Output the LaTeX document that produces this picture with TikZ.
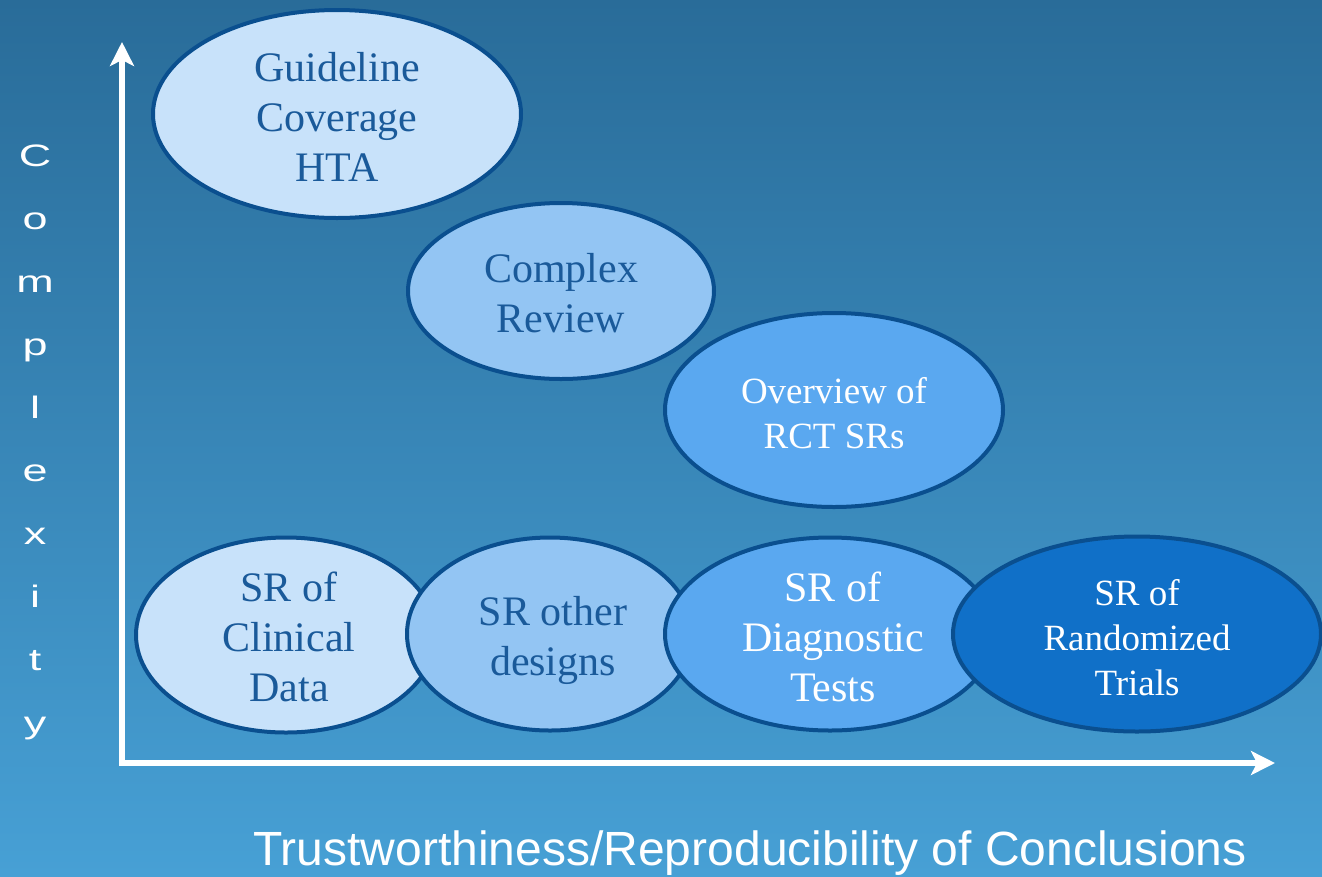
\documentclass[tikz,border=0pt]{standalone}
\usepackage{fontspec}
\setmainfont{Liberation Serif}
\newfontfamily\axisfont{Liberation Sans}
\usetikzlibrary{shapes.geometric,arrows.meta}
\definecolor{bgtop}{HTML}{296C99}
\definecolor{bgbot}{HTML}{47A0D5}
\definecolor{fillA}{HTML}{C8E2FA}
\definecolor{fillB}{HTML}{93C5F3}
\definecolor{fillC}{HTML}{5AA8F0}
\definecolor{fillD}{HTML}{1070C8}
\definecolor{rim}{HTML}{0A4F8F}
\definecolor{inkdark}{HTML}{1A5A9A}
\tikzset{
  oval/.style={ellipse, draw=rim, line width=4pt, inner sep=0pt},
  bigtxt/.style={align=center, font=\fontsize{42}{50}\selectfont, inner sep=0pt},
  smalltxt/.style={align=center, font=\fontsize{37}{45}\selectfont, inner sep=0pt},
  axisline/.style={white, line width=6.5pt, -{Stealth[length=24pt,width=24pt,inset=6pt]}},
}
\begin{document}
\begin{tikzpicture}[x=1pt,y=-1pt]
\useasboundingbox (0,0) rectangle (1322,876);
\shade[top color=bgtop, bottom color=bgbot] (0,0) rectangle (1322,876);

% axes
\coordinate (origin) at (122,763);
\coordinate (ytip) at (122,42);
\coordinate (xtip) at (1275,763);
\draw[axisline] ([yshift=-3pt]origin) -- (ytip);
\draw[axisline] ([xshift=-3pt]origin) -- (xtip);

% axis labels
\node[text=white, align=center, inner sep=0pt, xscale=1.45, transform shape,
      font=\axisfont\fontsize{31}{63}\selectfont] (ylab) at (35,442)
  {C\\o\\m\\p\\l\\e\\x\\i\\t\\y};
\node[text=white, inner sep=0pt, font=\axisfont\fontsize{48}{56}\selectfont,
      anchor=base] (xlab) at (750,865)
  {Trustworthiness/Reproducibility of Conclusions};

% ovals
\node[oval, fill=fillA, minimum width=368pt, minimum height=208pt] (guide) at (337,114) {};
\node[bigtxt, text=inkdark] (guidet) at ([yshift=-3pt]guide.center) {Guideline\\Coverage\\HTA};

\node[oval, fill=fillB, minimum width=306pt, minimum height=176pt] (complex) at (561,291) {};
\node[bigtxt, text=inkdark] (complext) at ([yshift=-2pt]complex.center) {Complex\\Review};

\node[oval, fill=fillC, minimum width=338pt, minimum height=194pt] (overview) at (834,410) {};
\node[smalltxt, text=white] (overviewt) at ([yshift=-3pt]overview.center) {Overview of\\RCT SRs};

\node[oval, fill=fillA, minimum width=300pt, minimum height=195pt] (clin) at (286,635) {};
\node[bigtxt, text=inkdark] (clint) at ([xshift=3pt,yshift=-2pt]clin.center) {SR of\\Clinical\\Data};

\node[oval, fill=fillB, minimum width=286pt, minimum height=193pt] (other) at (550,634) {};
\node[bigtxt, text=inkdark] (othert) at ([xshift=3pt,yshift=-6pt]other.center) {SR other\\designs};

\node[oval, fill=fillC, minimum width=330pt, minimum height=193pt] (diag) at (830,634) {};
\node[bigtxt, text=white] (diagt) at ([xshift=3pt,yshift=-3pt]diag.center) {SR of\\Diagnostic\\Tests};

\node[oval, fill=fillD, minimum width=368pt, minimum height=195pt] (rand) at (1137,634) {};
\node[smalltxt, text=white] (randt) at ([yshift=-4pt]rand.center) {SR of\\Randomized\\Trials};
\end{tikzpicture}
\end{document}
